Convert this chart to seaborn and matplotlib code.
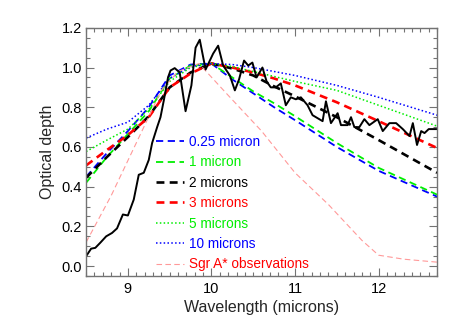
import numpy as np
import pandas as pd
import matplotlib
matplotlib.use("Agg")
import matplotlib.pyplot as plt
import seaborn as sns
from matplotlib.ticker import MultipleLocator

# observed spectrum (black solid)
obs_wave = [8.50, 8.56, 8.61, 8.67, 8.74, 8.81, 8.87, 8.94, 9.00, 9.07,
            9.13, 9.19, 9.25, 9.29, 9.35, 9.39, 9.43, 9.48, 9.51, 9.56,
            9.62, 9.69, 9.76, 9.81, 9.86, 9.93, 10.02, 10.08, 10.14, 10.22,
            10.28, 10.33, 10.39, 10.44, 10.49, 10.54, 10.61, 10.66, 10.71, 10.77,
            10.83, 10.89, 10.95, 11.01, 11.07, 11.15, 11.21, 11.29, 11.33, 11.37,
            11.43, 11.51, 11.55, 11.63, 11.67, 11.71, 11.77, 11.83, 11.89, 11.99,
            12.05, 12.13, 12.21, 12.29, 12.37, 12.41, 12.46, 12.51, 12.55, 12.60,
            12.70]
obs_tau = [0.05, 0.088, 0.092, 0.118, 0.15, 0.167, 0.19, 0.26, 0.255, 0.335,
           0.46, 0.47, 0.535, 0.62, 0.70, 0.75, 0.835, 0.95, 0.985, 0.997,
           0.975, 0.78, 0.91, 1.10, 1.14, 0.99, 1.07, 1.11, 1.01, 0.96,
           0.885, 0.94, 1.035, 1.01, 1.025, 0.95, 1.0, 0.93, 0.90, 0.90,
           0.92, 0.81, 0.85, 0.84, 0.85, 0.81, 0.76, 0.74, 0.73, 0.83,
           0.72, 0.77, 0.71, 0.71, 0.75, 0.70, 0.70, 0.74, 0.71, 0.74,
           0.68, 0.72, 0.72, 0.69, 0.655, 0.72, 0.61, 0.68, 0.67, 0.69,
           0.69]

# model grain sizes
model_wave = [8.5, 8.75, 9.0, 9.25, 9.5, 9.75, 10.0, 10.25, 10.5, 10.75, 11.0, 11.5, 12.0, 12.7]
tau_025 = [0.45, 0.57, 0.68, 0.80, 0.96, 1.015, 1.02, 0.94, 0.87, 0.80, 0.735, 0.60, 0.48, 0.35]
tau_1 = [0.42, 0.55, 0.665, 0.78, 0.945, 1.01, 1.02, 0.95, 0.88, 0.82, 0.755, 0.62, 0.495, 0.36]
tau_2 = [0.445, 0.55, 0.65, 0.755, 0.90, 0.975, 1.02, 0.995, 0.96, 0.905, 0.855, 0.75, 0.635, 0.47]
tau_3 = [0.507, 0.585, 0.66, 0.75, 0.90, 0.97, 1.02, 1.0, 0.975, 0.945, 0.91, 0.825, 0.73, 0.595]
tau_5 = [0.577, 0.635, 0.69, 0.79, 0.93, 1.0, 1.02, 1.005, 0.98, 0.955, 0.93, 0.885, 0.81, 0.705]
tau_10 = [0.645, 0.69, 0.725, 0.81, 0.945, 1.005, 1.02, 1.015, 1.0, 0.98, 0.96, 0.91, 0.85, 0.76]

# Sgr A* observations (pink thin dashed)
sgr_wave = [8.5, 8.8, 9.1, 9.4, 9.6, 9.85, 10.2, 10.6, 11.0, 11.4, 11.8, 12.0, 12.3, 12.7]
sgr_tau = [0.12, 0.355, 0.62, 0.885, 0.98, 1.02, 0.86, 0.68, 0.47, 0.31, 0.13, 0.055, 0.035, 0.02]

labels = ["0.25 micron", "1 micron", "2 microns", "3 microns", "5 microns", "10 microns",
          "Sgr A* observations"]

sns.set_style("ticks")
plt.rcParams['font.family'] = ['Liberation Sans', 'DejaVu Sans']

fig = plt.figure(figsize=(4.63, 3.31), dpi=100)
ax = fig.add_axes([0.186, 0.166, 0.758, 0.750])

blue = "#0000ff"
green = "#00ee00"
red = "#ff0000"
pink = "#ff9999"

series = [
    (tau_025, blue, (0, (4, 2.5)), 1.3),
    (tau_1, green, (0, (4, 2.5)), 1.3),
    (tau_2, "black", (0, (3, 2)), 1.9),
    (tau_3, red, (0, (3, 2)), 1.9),
    (tau_5, green, (0, (1, 1.5)), 1.1),
    (tau_10, blue, (0, (1, 1.5)), 1.1),
]

for (vals, col, ls, lw), lab in zip(series, labels[:6]):
    sns.lineplot(x=model_wave, y=vals, color=col, linestyle=ls, linewidth=lw,
                 label=lab, ax=ax)

sns.lineplot(x=sgr_wave, y=sgr_tau, color=pink, linestyle=(0, (5, 3)), linewidth=0.8,
             label=labels[6], ax=ax)

sns.lineplot(x=obs_wave, y=obs_tau, color="black", linewidth=1.4, ax=ax, legend=False)

ax.set_xlim(8.5, 12.7)
ax.set_ylim(-0.05, 1.2)
ax.xaxis.set_major_locator(MultipleLocator(1))
ax.xaxis.set_minor_locator(MultipleLocator(0.1))
ax.yaxis.set_major_locator(MultipleLocator(0.2))
ax.yaxis.set_minor_locator(MultipleLocator(0.05))
ax.yaxis.set_major_formatter(matplotlib.ticker.FormatStrFormatter("%.1f"))
ax.tick_params(which="both", direction="in", top=True, right=True, colors="0.45",
               labelcolor="black", labelsize=10.5, width=0.8)
ax.tick_params(which="major", length=6)
ax.tick_params(which="minor", length=3)
ax.tick_params(axis="x", which="major", pad=4)
ax.tick_params(axis="y", which="major", pad=3)
for sp in ax.spines.values():
    sp.set_color("0.45")
    sp.set_linewidth(1.0)

ax.set_xlabel("Wavelength (microns)", fontsize=11.5, labelpad=3)
ax.set_ylabel("Optical depth", fontsize=11.5, labelpad=5)

leg = ax.legend(loc="upper left", bbox_to_anchor=(0.2, 0.568), frameon=False,
                fontsize=9.8, handlelength=2.0, handletextpad=0.4, labelspacing=0.47,
                borderpad=0, borderaxespad=0,
                labelcolor=[blue, green, "black", red, green, blue, red])

fig.savefig("out.png", dpi=100)
